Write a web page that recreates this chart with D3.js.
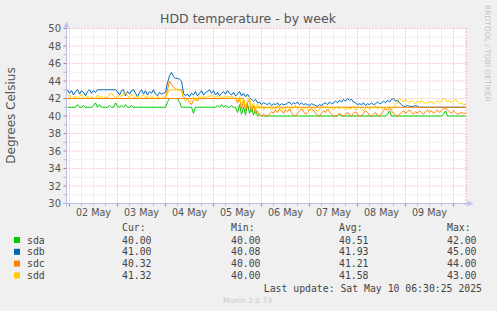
<!DOCTYPE html>
<html>
<head>
<meta charset="utf-8">
<script src="https://cdnjs.cloudflare.com/ajax/libs/d3/7.8.5/d3.min.js"></script>
<style>
body{margin:0;background:#f0f0f0;}
svg text{font-family:"DejaVu Sans",sans-serif;}
svg text.mono{font-family:"DejaVu Sans Mono",monospace;}
</style>
</head>
<body>
<div id="chart"></div>
<script>
// hourly samples, starting 01 May 22:30
var sda = [41,41,41,41,41,41.3,41,41,41.2,41,41,41,41,41.2,41.5,41,41.3,41,41,41
,41,41.2,41,41,41.5,41.1,41,41.2,41,41.3,41,41,41.2,41,41,41,41,41,41,41
,41,41,41,41,41,41,41,41,41,41,41.6,42,42,42,42,42,41.6,41,41,41
,41,41,41,40.3,41,41,41,41,41,41,41,41,41,41,41,41.2,41,41.3,41,41.2
,41,41,41.2,41,41,40.4,41.3,40.2,41,40.1,41.4,40.3,41,40.1,40.8,40,40.2,40,40,40
,40,40,40,40,40,40,40,40,40,40,40,40,40,40,40,40,40,40,40,40
,40,40,40,40,40,40,40,40,40,40,40,40,40,40,40,40,40.2,40,40,40
,40,40,40,40,40,40,40,40,40,40,40,40,40,40,40,40,40,40,40,40
,40.2,40.6,40,40,40,40,40,40,40,40,40,40,40,40,40,40,40,40,40,40
,40,40,40,40,40,40,40,40,40.2,40.6,40,40,40,40,40,40,40,40,40,40];

var sdb = [43,42.6,42.9,42.4,42.8,43,42.5,42.9,42.7,42.3,42.8,43,42.6,42.9,42.7,43,43,43,43,43
,43,43,43,43,43,42.8,42.4,42.9,43,42.3,42.8,42.5,42.9,43,42.6,42.2,42.7,43,42.5,42.9
,42.4,42.8,42.6,43,42.5,42.3,42.7,42.5,42.6,42.7,43.8,44.6,45,44.5,44.3,44.3,44.2,44,42.6,42.3
,42.5,42.2,42.6,42.4,42.8,42.3,42.6,42.9,42.4,42.7,42.8,43,42.6,42.9,42.4,42.7,42.3,42.6,42.8,42.5
,42.9,42.6,42.4,42.7,42.3,42.5,42.8,42.3,42.6,42.2,42.5,42.1,41.9,41.7,41.9,41.5,41.6,41.3,41.5,41.4
,41.3,41.5,41.2,41.4,41.3,41.5,41.2,41.4,41.3,41.3,41.5,41.6,41.3,41.5,41.4,41.6,41.3,41.5,41.3,41.4
,41.3,41.2,41.4,41.3,41.2,41.1,41.3,41.2,41.4,41.5,41.3,41.6,41.4,41.5,41.7,41.5,41.8,41.6,41.9,41.7
,42,41.8,41.9,41.6,41.5,41.3,41.4,41.3,41.5,41.2,41.4,41.3,41.5,41.3,41.4,41.6,41.4,41.5,41.7,41.5
,41.8,41.6,41.9,42,41.7,41.8,41.5,41.3,41.1,41.1,41.2,41.1,41.1,41.1,41.2,41.1,41,41,41,41
,41,41,41,41,41,41,41,41,41,41,41,41,41,41,41,41,41,41,41,41];

var sdc = [42,42,42,42,42,42,42,42,42,42,42,42,42,42,42,42,42,42,42,42
,42,42,42,42,42,42,42,42,42,42,42,42,42,42,42,42,42,42,42,42
,42,42,42,42,42,42,42,42,42,42,43,44,43.6,43.3,43.1,43,43,43,42.2,42
,41.9,41.6,41.3,41.8,42,41.7,42,42,42,42,42,42,42,42,42,42,42,42,42,42
,42,42,42,42,42,41.5,42,40.8,41.8,40.6,41.5,41.9,40.5,41.2,40.3,40.6,40.1,40,40.2,40
,40,40.2,40.5,40.3,40.7,40.4,40.8,40.6,40.3,40.7,40.5,40.8,40.4,40.1,40,40.3,40.6,40.8,40.5,40.2
,40.4,40.7,40.8,40.6,40.3,40.1,40,40.3,40.6,40.4,40.8,40.5,40.2,40,40,40.1,40.3,40.1,40,40.2
,40.4,40.2,40,40.3,40.5,40.2,40,40,40.3,40.6,40.4,40.1,40,40.2,40.4,40.1,40,40.3,40.6,40.8
,40.7,40.9,40.6,40.3,40.1,40,40.2,40.4,40.6,40.3,40.5,40.7,40.4,40.2,40.5,40.3,40.6,40.4,40.2,40.5
,40.7,40.4,40.6,40.3,40.5,40.7,40.4,40.6,40.8,40.9,40.7,40.5,40.3,40.6,40.4,40.2,40.3,40.4,40.3,40.32];

var sdd = [42.2,42.4,42,42.1,42.3,42,42.2,42.5,42.1,42,42.3,42,42.2,42.1,42,42.4,42.1,42.3,42,42.2
,42.1,42.5,42.6,42.3,42.2,42.1,42.4,42.2,42.6,42.7,42.3,42.1,42.5,42.2,42.1,42.3,42,42.2,42.4,42.1
,42.2,42,42.3,42.1,42,42.2,42.1,42,42.2,42.1,42.6,43,43,43,43,43,43,42.9,42.1,41.7
,41.9,41.6,41.8,42.2,41.7,42,42.3,42.1,42.2,42.1,42.3,42.2,42.4,42.1,42.2,42.3,42.1,42.2,42.1,42.3
,42.2,42.1,42.3,42,42.1,41.7,42.2,41.2,42,40.9,41.8,42.1,40.8,41.5,40.6,41.4,40.8,41.2,40.7,41
,40.9,41.1,40.7,41,40.8,41.2,40.9,40.6,41,40.8,41.1,40.9,40.7,41,41.2,40.8,41,40.9,40.7,41.1
,40.9,40.6,40.8,41,40.7,40.5,40.8,41,41.2,40.9,41.1,40.8,41,40.7,40.9,41.1,40.8,41,40.9,40.7
,41,40.8,40.9,41.1,40.7,40.9,41,40.8,40.6,40.9,41.1,40.8,41,40.9,41.2,40.8,41,40.9,40.7,41
,40.9,41.1,40.8,41,41.3,41.7,42,41.8,41.6,41.9,41.7,41.5,41.8,41.6,41.4,41.7,41.5,41.8,41.6,41.4
,41.6,41.5,41.7,41.4,41.6,41.8,41.5,41.7,42,41.9,41.6,41.8,41.5,41.7,41.9,41.6,41.4,41.5,41.3,41.32];

// flat orange level line seen under the series
var levelIdx = [0,88,89,199];
var levelVal = [42,42,41,41];

var names = ["sda","sdb","sdc","sdd"];
var colors = ["#00cc00","#0066b3","#ff8000","#ffcc00"];
var curVals = ["40.00","41.00","40.32","41.32"];
var minVals = ["40.00","40.08","40.00","40.00"];
var avgVals = ["40.51","41.93","41.21","41.58"];
var maxVals = ["42.00","45.00","44.00","43.00"];
var yTicks = [30,32,34,36,38,40,42,44,46,48,50];

var W = 497, H = 311;
var t0 = new Date(2025,4,1,22,30);
var t1 = new Date(2025,4,10,6,30);
function timeAt(i){ return new Date(t0.getTime() + i*3600e3); }

var svg = d3.select("#chart").append("svg").attr("width",W).attr("height",H);
svg.append("rect").attr("width",W).attr("height",H).attr("fill","#f0f0f0");

var x = d3.scaleTime().domain([t0,t1]).range([66.5,466.5]);
var y = d3.scaleLinear().domain([30,50]).range([203.5,28.5]);

// plot background
svg.append("rect").attr("x",x.range()[0]).attr("y",y.range()[1])
  .attr("width",x.range()[1]-x.range()[0]).attr("height",y.range()[0]-y.range()[1])
  .attr("fill","#fff");

var minorC = "#d2d2d2", majorC = "#eba0a0";
var g = svg.append("g");

// horizontal grid
d3.range(31,50).forEach(function(v){
  if(v%2==0) return;
  g.append("line").attr("x1",x.range()[0]).attr("x2",x.range()[1]).attr("y1",y(v)).attr("y2",y(v))
    .attr("stroke",minorC).attr("stroke-dasharray","1,2");
  g.append("line").attr("x1",x.range()[0]-3).attr("x2",x.range()[0]).attr("y1",y(v)).attr("y2",y(v)).attr("stroke","#bbb");
});
yTicks.forEach(function(v){
  g.append("line").attr("x1",x.range()[0]).attr("x2",x.range()[1]).attr("y1",y(v)).attr("y2",y(v))
    .attr("stroke",majorC).attr("stroke-dasharray","1,2");
  g.append("line").attr("x1",x.range()[0]-3).attr("x2",x.range()[0]).attr("y1",y(v)).attr("y2",y(v)).attr("stroke","#e07070");
});

// vertical grid
var sixH = d3.timeHour.every(6).range(t0,t1).filter(function(d){return d.getHours()!=0;});
var days = d3.timeDay.range(t0,t1);
sixH.forEach(function(d){
  g.append("line").attr("x1",x(d)).attr("x2",x(d)).attr("y1",y.range()[1]).attr("y2",y.range()[0])
    .attr("stroke",minorC).attr("stroke-dasharray","1,2");
  g.append("line").attr("x1",x(d)).attr("x2",x(d)).attr("y1",y.range()[0]).attr("y2",y.range()[0]+2).attr("stroke","#bbb");
});
days.forEach(function(d){
  g.append("line").attr("x1",x(d)).attr("x2",x(d)).attr("y1",y.range()[1]).attr("y2",y.range()[0])
    .attr("stroke",majorC).attr("stroke-dasharray","1,2");
  g.append("line").attr("x1",x(d)).attr("x2",x(d)).attr("y1",y.range()[0]).attr("y2",y.range()[0]+3).attr("stroke","#e07070");
});
g.append("line").attr("x1",x.range()[1]).attr("x2",x.range()[1]).attr("y1",y.range()[1]).attr("y2",y.range()[0])
  .attr("stroke",majorC).attr("stroke-dasharray","1,2");

// axes
var axC = "#b8bce8";
svg.append("line").attr("x1",x.range()[0]-3).attr("x2",x.range()[1]+2).attr("y1",y.range()[0]).attr("y2",y.range()[0]).attr("stroke",axC);
svg.append("line").attr("x1",x.range()[0]).attr("x2",x.range()[0]).attr("y1",y.range()[0]+3).attr("y2",y.range()[1]-3).attr("stroke",axC);
var xr = x.range()[1], yb = y.range()[0], xl = x.range()[0], yt = y.range()[1];
svg.append("path").attr("d","M"+(xr+1)+","+(yb-3)+"L"+(xr+7)+","+yb+"L"+(xr+1)+","+(yb+3)+"Z").attr("fill","#c0c4f0");
svg.append("path").attr("d","M"+(xl-3)+","+(yt-1)+"L"+xl+","+(yt-7)+"L"+(xl+3)+","+(yt-1)+"Z").attr("fill","#c0c4f0");

// y labels
svg.selectAll(".ylab").data(yTicks).enter().append("text")
  .attr("x",61).attr("y",function(d){return y(d);}).attr("dy","0.36em")
  .attr("text-anchor","end").attr("font-size","10px").attr("fill","#555").text(function(d){return d;});

// x labels at noon
var fmt = d3.timeFormat("%d %b");
var noons = days.map(function(d){return d3.timeHour.offset(d,12);}).filter(function(d){return d < t1;});
svg.selectAll(".xlab").data(noons).enter().append("text")
  .attr("x",function(d){return x(d);}).attr("y",216).attr("text-anchor","middle")
  .attr("font-size","9.6px").attr("fill","#555").text(function(d){return fmt(d);});

// lines
var line = d3.line().x(function(d,i){return x(timeAt(i+0.5));}).y(function(d){return y(d);});
var series = [sda,sdb,sdc,sdd];
[0,1,2].forEach(function(k){
  svg.append("path").attr("d",line(series[k])).attr("fill","none").attr("stroke",colors[k]).attr("stroke-width",1);
});
var levelLine = d3.line().x(function(d){return x(timeAt(d[0]+0.5));}).y(function(d){return y(d[1]);});
svg.append("path").attr("d",levelLine(levelIdx.map(function(v,i){return [v,levelVal[i]];})))
  .attr("fill","none").attr("stroke",colors[2]).attr("stroke-width",1);
svg.append("path").attr("d",line(series[3])).attr("fill","none").attr("stroke",colors[3]).attr("stroke-width",1);

// titles
svg.append("text").attr("x",248).attr("y",23).attr("text-anchor","middle").attr("font-size","12.5px")
  .attr("fill","#555").text("HDD temperature - by week");
svg.append("text").attr("transform","translate(15,115.5) rotate(-90)").attr("text-anchor","middle")
  .attr("font-size","12px").attr("fill","#555").text("Degrees Celsius");
svg.append("text").attr("transform","translate(485,5) rotate(90)").attr("font-size","7.5px")
  .attr("fill","#c4c4c4").text("RRDTOOL / TOBI OETIKER");

// legend
var colX = [122,231,339,447];
var heads = ["Cur:","Min:","Avg:","Max:"];
var cols = [curVals,minVals,avgVals,maxVals];
heads.forEach(function(h,c){
  svg.append("text").attr("class","mono").attr("x",colX[c]).attr("y",231).attr("font-size","9.8px").attr("fill","#444").text(h);
});
names.forEach(function(n,k){
  var by = 243.5 + k*11.8;
  svg.append("rect").attr("x",14).attr("y",by-6.5).attr("width",6).attr("height",6).attr("fill",colors[k]);
  svg.append("text").attr("class","mono").attr("x",27).attr("y",by).attr("font-size","9.8px").attr("fill","#444").text(n);
  cols.forEach(function(vals,c){
    svg.append("text").attr("class","mono").attr("x",colX[c]).attr("y",by).attr("font-size","9.8px").attr("fill","#444").text(vals[k]);
  });
});
svg.append("text").attr("class","mono").attr("x",482).attr("y",291.5).attr("text-anchor","end")
  .attr("font-size","9.8px").attr("fill","#444").text("Last update: Sat May 10 06:30:25 2025");
svg.append("text").attr("x",223).attr("y",303).attr("font-size","7.5px").attr("fill","#c8c8c8").text("Munin 2.0.73");
</script>
</body>
</html>
